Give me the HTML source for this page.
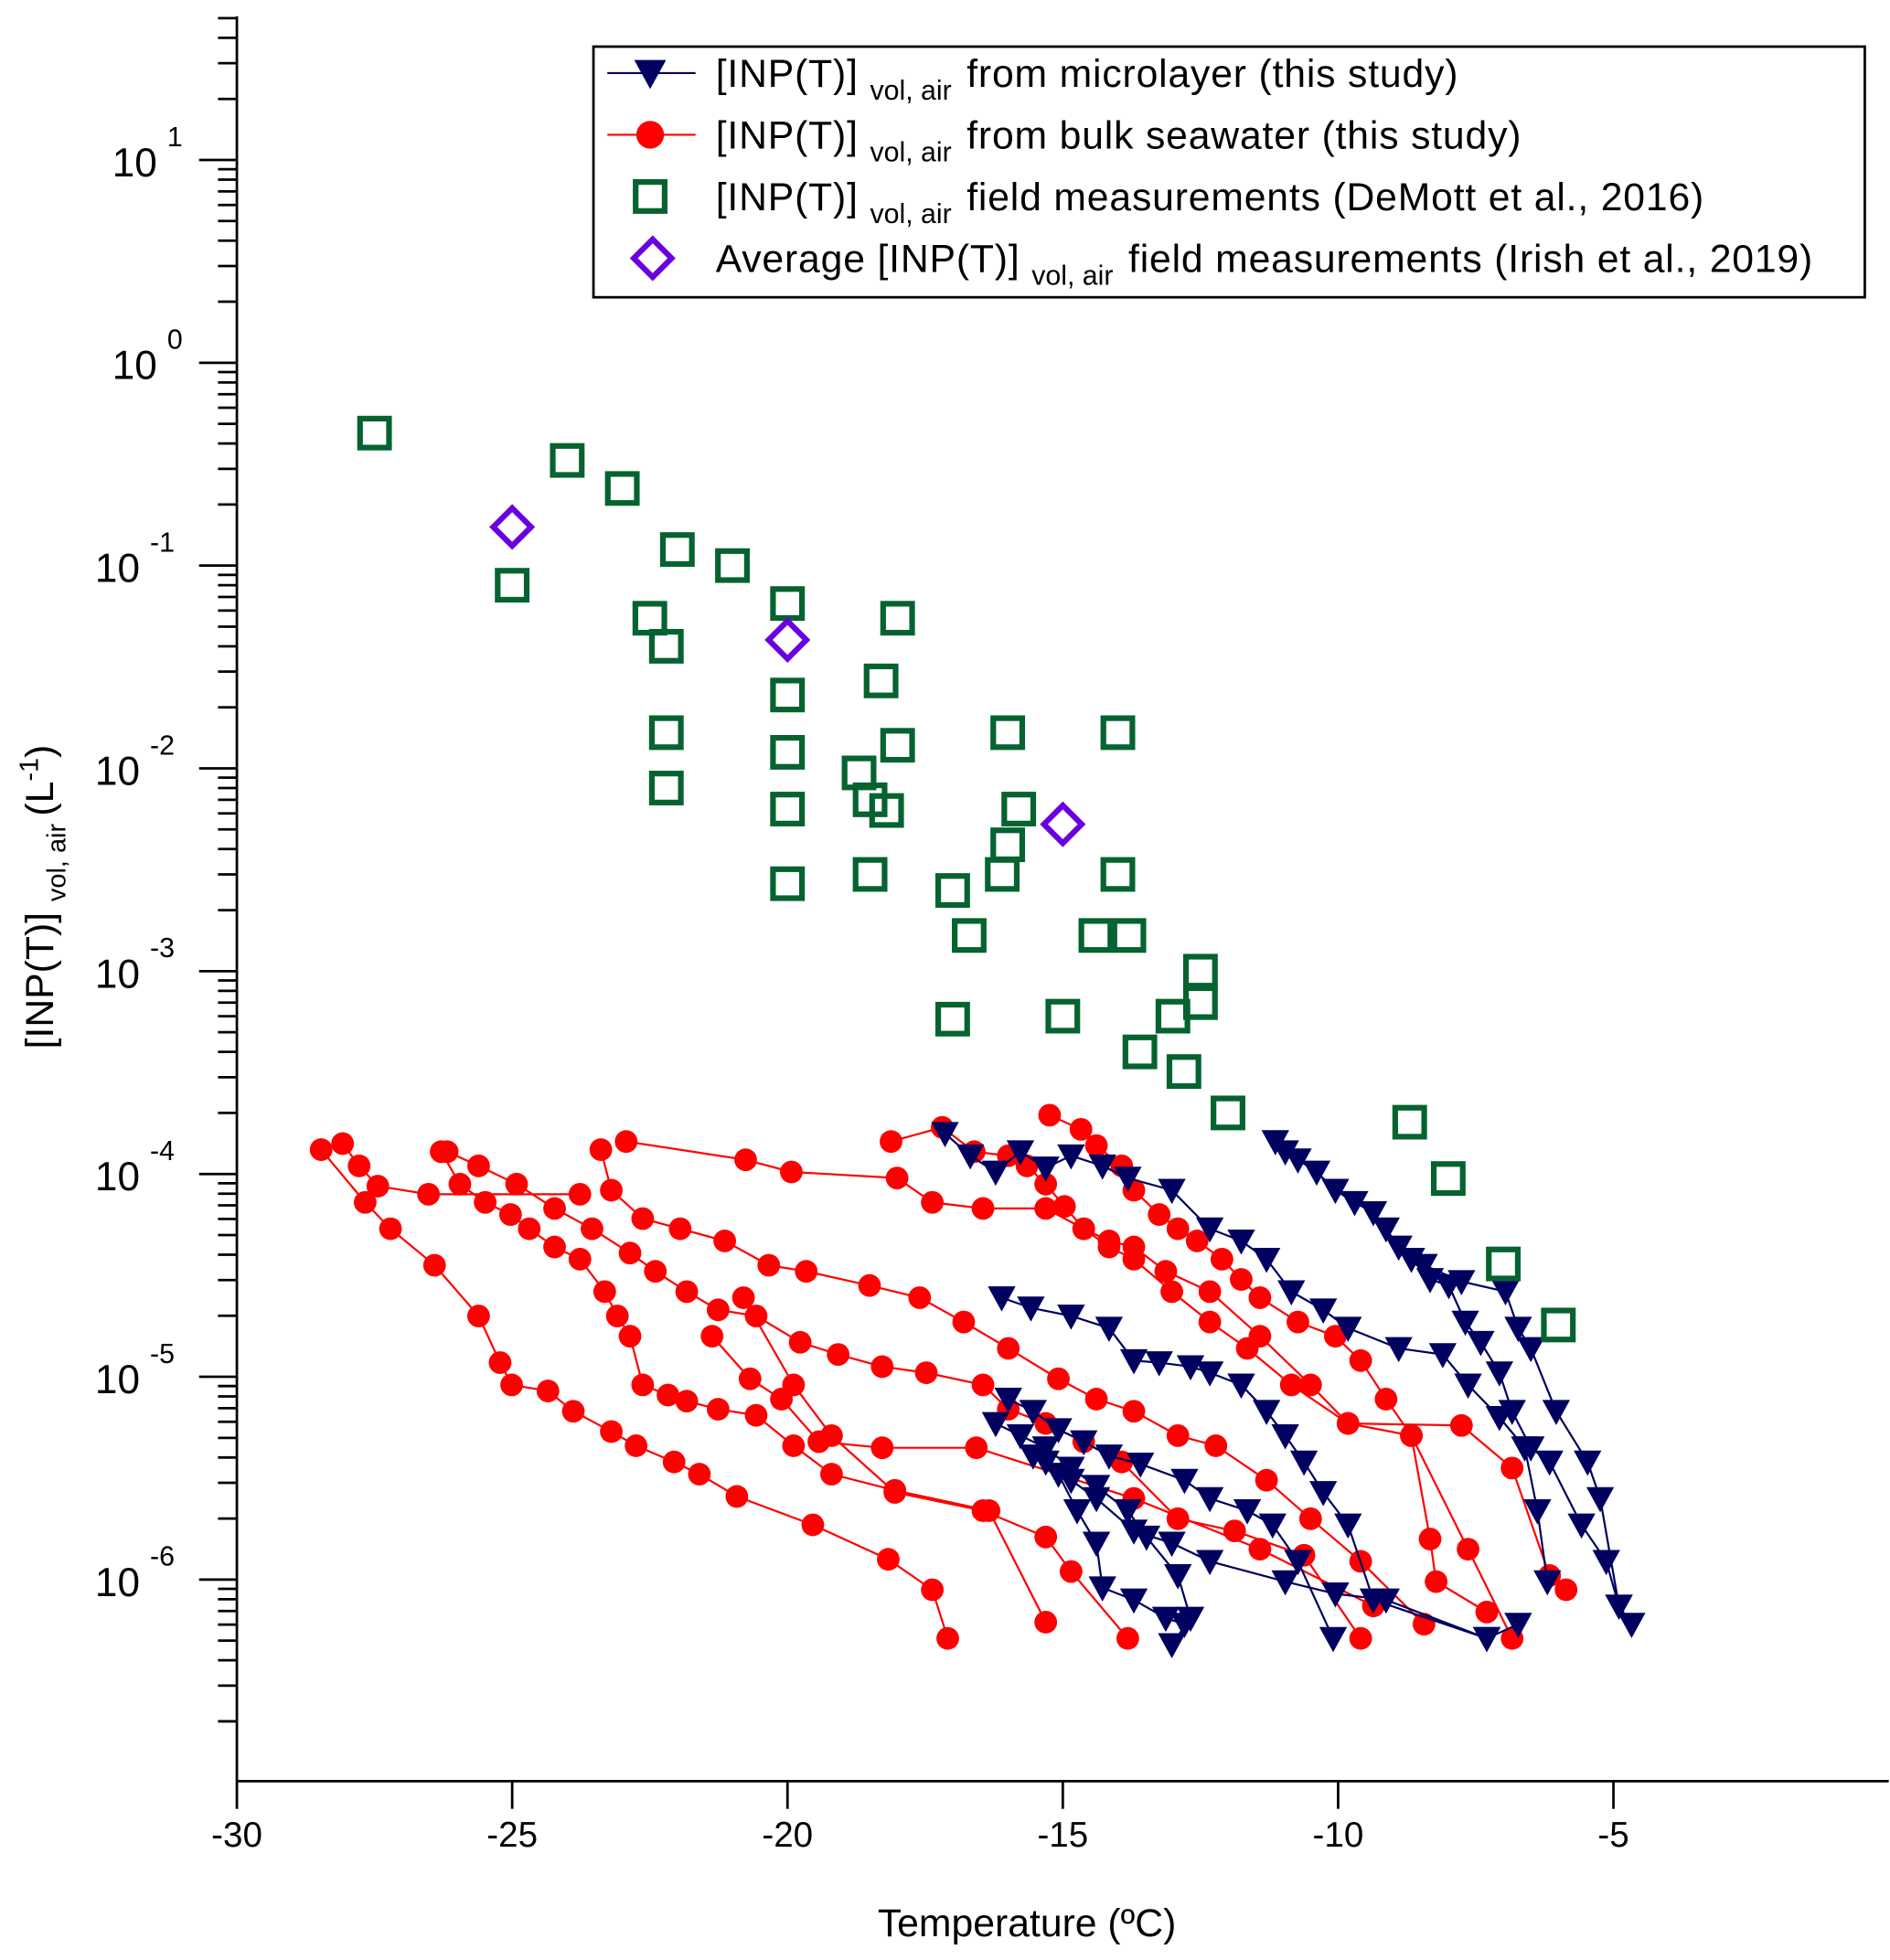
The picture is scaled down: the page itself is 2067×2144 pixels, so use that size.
<!DOCTYPE html>
<html><head><meta charset="utf-8"><style>
html,body{margin:0;padding:0;background:#fff}
svg{display:block}
text{font-family:"Liberation Sans",Arial,sans-serif;fill:#000}
</style></head><body>
<svg id="chart" xmlns="http://www.w3.org/2000/svg" width="2067" height="2144" viewBox="0 0 1500 1556" preserveAspectRatio="none">
<g id="grid"></g>
<g id="marks"></g>
<g id="legend"></g>
</svg>
<script>
const xTicks=[-30,-25,-20,-15,-10,-5];
const yDecades=[-6,-5,-4,-3,-2,-1,0,1];
// bulk seawater (red) series: temperatures and log10 concentrations
const redT=[
[-28.47,-27.67,-27.21,-26.41,-25.61,-25.22,-25.01,-24.35,-23.89,-23.2,-22.75,-22.06,-21.6,-20.92,-19.54,-18.17,-17.37,-17.09],
[-26.29,-25.95,-25.49,-25.03,-24.69,-24.23,-23.77,-23.32,-23.09,-22.86,-22.63,-22.17,-21.83,-21.26,-20.57,-19.89,-19.2,-18.05,-16.34,-15.31],
[-28.08,-27.78,-27.44,-26.52,-23.77],
[-26.18,-25.61,-24.92,-24.23,-23.55,-22.86,-22.4,-21.83,-21.26,-20.57,-19.77,-19.08,-18.28,-17.48,-16.45,-15.99,-15.31,-14.62,-13.93,-12.91,-11.88,-10.62,-9.59],
[-23.39,-23.2,-22.63,-21.95,-21.14,-20.34,-19.66,-18.51,-17.6,-16.8,-15.99,-15.08,-14.39,-13.71,-12.91,-12.22,-11.3,-10.5,-9.59,-8.44],
[-22.93,-20.76,-19.93,-18.01,-17.37,-16.45,-15.31,-14.62,-14.16,-13.71,-13.13,-12.33,-11.42,-10.5,-9.82,-8.67,-7.64,-6.84],
[-18.12,-17.19,-16.61,-15.99,-15.65,-15.31,-14.97,-14.62,-14.16,-13.71,-13.02,-12.33,-11.65,-10.85,-9.82,-7.76,-6.84,-6.16,-5.86],
[-15.24,-14.67,-14.39,-13.93,-13.71,-13.25,-12.91,-12.56,-12.11,-11.76,-11.42,-10.73,-10.05,-9.59,-9.13,-8.67,-8.33,-8.22,-7.3],
[-20.8,-19.89,-19.2,-18.05,-16.45,-15.31,-14.85,-13.82],
[-21.37,-20.68,-20.11,-19.43,-18.28,-16.57,-13.71,-11.42,-9.36]
];
const redLog=[
[-3.88,-4.14,-4.27,-4.45,-4.7,-4.93,-5.04,-5.07,-5.17,-5.27,-5.34,-5.42,-5.48,-5.59,-5.73,-5.9,-6.05,-6.29],
[-3.89,-4.05,-4.14,-4.2,-4.27,-4.36,-4.42,-4.58,-4.7,-4.8,-5.04,-5.09,-5.12,-5.16,-5.19,-5.34,-5.48,-5.56,-5.66,-6.21],
[-3.85,-3.96,-4.06,-4.1,-4.1],
[-3.89,-3.96,-4.05,-4.17,-4.27,-4.39,-4.48,-4.58,-4.67,-4.7,-4.83,-4.89,-4.95,-4.98,-5.04,-5.16,-5.23,-5.32,-5.42,-5.7,-5.76,-5.88,-6.29],
[-3.88,-4.08,-4.22,-4.27,-4.33,-4.45,-4.48,-4.55,-4.61,-4.73,-4.86,-5.01,-5.11,-5.17,-5.29,-5.34,-5.51,-5.7,-5.91,-6.22],
[-3.84,-3.93,-3.99,-4.02,-4.14,-4.17,-4.17,-4.27,-4.33,-4.36,-4.48,-4.58,-4.8,-5.04,-5.23,-5.29,-5.85,-6.29],
[-3.84,-3.77,-3.89,-3.91,-3.96,-4.05,-4.16,-4.27,-4.36,-4.42,-4.58,-4.73,-4.86,-5.04,-5.23,-5.24,-5.45,-5.98,-6.05],
[-3.71,-3.78,-3.86,-3.96,-4.08,-4.2,-4.27,-4.33,-4.42,-4.52,-4.61,-4.73,-4.8,-4.92,-5.11,-5.29,-5.8,-6.01,-6.16],
[-4.61,-5.04,-5.29,-5.57,-5.66,-5.79,-5.96,-6.29],
[-4.8,-5.01,-5.11,-5.32,-5.35,-5.35,-5.6,-5.85,-6.13]
];
// microlayer (navy) series
const blueT=[
[-11.14,-10.96,-10.73,-10.39,-10.05,-9.7,-9.36,-9.13,-8.9,-8.67,-8.33,-7.99,-7.69,-7.41,-7.07,-6.84,-6.5,-6.16,-5.58,-5.13,-4.9,-4.67],
[-8.44,-7.76,-6.96,-6.73,-6.5,-6.04,-5.47,-5.24,-4.9],
[-17.14,-16.68,-16.22,-15.77,-15.31,-14.85,-14.28,-13.82,-13.02,-12.33,-11.76,-11.3,-10.85,-10.27,-9.82,-8.9,-8.1,-7.64,-7.07,-6.61,-6.38,-6.2],
[-16.11,-15.58,-14.85,-14.16,-13.71,-13.25,-12.68,-12.33,-11.76,-11.3,-10.96,-10.62,-10.27,-9.82,-9.36,-7.3,-6.73],
[-15.99,-15.54,-15.08,-14.62,-14.16,-13.59,-12.79,-12.33,-11.65,-11.19,-10.73,-10.09],
[-16.22,-15.77,-15.31,-14.85,-14.39,-13.82,-13.48,-12.91,-12.68,-13.02],
[-15.54,-15.08,-14.74,-14.39,-14.28,-13.71,-13.13,-12.79],
[-15.31,-14.85,-14.39,-13.71,-13.02,-12.33,-10.96,-10.05,-9.13,-7.3]
];
const blueLog=[
[-3.84,-3.89,-3.93,-3.99,-4.08,-4.14,-4.19,-4.27,-4.36,-4.42,-4.52,-4.55,-4.73,-4.83,-4.98,-5.17,-5.35,-5.42,-5.73,-5.91,-6.13,-6.22],
[-4.45,-4.53,-4.58,-4.76,-4.86,-5.17,-5.42,-5.6,-6.13],
[-3.8,-3.91,-3.99,-3.89,-3.97,-3.91,-3.96,-4.02,-4.08,-4.27,-4.33,-4.42,-4.58,-4.67,-4.76,-4.86,-4.89,-5.04,-5.2,-5.35,-5.66,-6.01],
[-4.61,-4.66,-4.7,-4.76,-4.92,-4.93,-4.95,-4.98,-5.04,-5.17,-5.29,-5.42,-5.57,-5.73,-6.1,-6.29,-6.22],
[-5.11,-5.17,-5.26,-5.32,-5.39,-5.43,-5.51,-5.6,-5.66,-5.73,-5.91,-6.29],
[-5.23,-5.29,-5.35,-5.45,-5.54,-5.66,-5.79,-5.98,-6.19,-6.32],
[-5.39,-5.48,-5.66,-5.82,-6.04,-6.1,-6.19,-6.22],
[-5.42,-5.51,-5.6,-5.76,-5.82,-5.91,-6.01,-6.07,-6.1,-6.29]
];
// DeMott et al. 2016 field measurements
const demottT=[-27.5,-24,-23,-22,-21,-25,-20,-22.5,-22.2,-18,-20,-18.3,-22.2,-20,-18,-18.7,-18.5,-18.2,-22.2,-20,-16,-14,-15.8,-16,-16.1,-18.5,-20,-17,-14,-16.7,-14.4,-13.8,-12.5,-12.5,-13,-17,-15,-13.6,-12.8,-12,-8.7,-8,-7,-6];
const demottV=[0.45,0.33,0.24,0.12,0.1,0.08,0.065,0.055,0.04,0.055,0.023,0.027,0.015,0.012,0.013,0.0095,0.007,0.0062,0.008,0.0063,0.015,0.015,0.0063,0.0042,0.003,0.003,0.0027,0.0025,0.003,0.0015,0.0015,0.0015,0.001,0.0007,0.0006,0.00058,0.0006,0.0004,0.00032,0.0002,0.00018,0.000095,0.000036,0.000018];
// Irish et al. 2019 averages
const irishT=[-25,-20,-15];
const irishV=[0.155,0.043,0.0053];

const NS="http://www.w3.org/2000/svg";
const X0=188,X1=1499,T0=-30,T1=0;
const xs=t=>X0+(t-T0)*(X1-X0)/(T1-T0);
const ys=l=>288-l*161; // l = log10 value
function el(tag,attrs,parent){const e=document.createElementNS(NS,tag);for(const k in attrs)e.setAttribute(k,attrs[k]);parent.appendChild(e);return e;}
const G=document.getElementById('grid'),M=document.getElementById('marks'),L=document.getElementById('legend');

let a=el('line',{x1:188,y1:13,x2:188,y2:1414,stroke:'#000','stroke-width':2},G);

a=el('line',{x1:188,y1:1414,x2:1499,y2:1414,stroke:'#000','stroke-width':2},G);

xTicks.forEach(t=>{
  const tk=el('line',{x1:xs(t),y1:1414,x2:xs(t),y2:1436,stroke:'#000','stroke-width':2},G);
  
  const tx=el('text',{x:xs(t),y:1466,'text-anchor':'middle','font-size':28},G);tx.textContent=String(t);
  
});
for(let d=-7;d<=1;d++){
  for(let m=1;m<=9;m++){
    const l=d+Math.log10(m);const y=ys(l);
    if(y<13||y>1414)continue;
    const len=m===1?30:15;
    const tk=el('line',{x1:188-len,y1:y,x2:188,y2:y,stroke:'#000','stroke-width':2},G);
    
  }
}
yDecades.forEach(d=>{
  const y=ys(d);
  const tx=el('text',{x:d<0?107:117,y:y+13,'text-anchor':'middle','font-size':32},G);
  
  tx.appendChild(document.createTextNode('10'));
  const s=el('tspan',{dx:8,dy:-24,'font-size':22},tx);s.textContent=String(d);
});
let t=el('text',{x:815,y:1537,'text-anchor':'middle','font-size':31},G);t.textContent='Temperature (ºC)';

t=el('text',{transform:'translate(42,712) rotate(-90)','text-anchor':'middle','font-size':31},G);

t.appendChild(document.createTextNode('[INP(T)] '));
let sp=el('tspan',{dy:10,'font-size':21},t);sp.textContent='vol, air';
sp=el('tspan',{dy:-10,dx:6},t);sp.textContent='(L';
sp=el('tspan',{dy:-12,'font-size':21},t);sp.textContent='-1';
sp=el('tspan',{dy:12},t);sp.textContent=')';

const RED='#ff0000',BLUE='#000060',GREEN='#056330',PURP='#6a00e0';
function tri(cx,cy,g,c,s){s=s||1;return el('path',{d:`M${cx-11*s},${cy-9*s}L${cx+11*s},${cy-9*s}L${cx},${cy+11*s}Z`,fill:c},g);}
function sq(cx,cy,g){return el('rect',{x:cx-11.5,y:cy-11.5,width:23,height:23,fill:'none',stroke:GREEN,'stroke-width':4.5},g);}
function dia(cx,cy,g){return el('path',{d:`M${cx},${cy-15}L${cx+15},${cy}L${cx},${cy+15}L${cx-15},${cy}Z`,fill:'none',stroke:PURP,'stroke-width':4.5},g);}

redT.forEach((ts,i)=>{
  const g=el('g',{},M);
  const ln=el('polyline',{points:ts.map((v,j)=>xs(v)+','+ys(redLog[i][j])).join(' '),fill:'none',stroke:RED,'stroke-width':1.6},g);
  
  ts.forEach((v,j)=>{const c=el('circle',{cx:xs(v),cy:ys(redLog[i][j]),r:9,fill:RED},g);
    });
});
blueT.forEach((ts,i)=>{
  const g=el('g',{},M);
  const ln=el('polyline',{points:ts.map((v,j)=>xs(v)+','+ys(blueLog[i][j])).join(' '),fill:'none',stroke:BLUE,'stroke-width':1.6},g);
  
  ts.forEach((v,j)=>{const p=tri(xs(v),ys(blueLog[i][j]),g,BLUE);
    });
});
demottT.forEach((v,i)=>{const r=sq(xs(v),ys(Math.log10(demottV[i])),M);
  });
irishT.forEach((v,i)=>{const r=dia(xs(v),ys(Math.log10(irishV[i])),M);
  });

const box=el('rect',{x:471,y:37,width:1009,height:199,fill:'#fff',stroke:'#000','stroke-width':2},L);

const entries=[
 ['[INP(T)]','from microlayer（this study)','line-tri'],
 ['[INP(T)]','from bulk seawater (this study)','line-circ'],
 ['[INP(T)]','field measurements (DeMott et al., 2016)','sq'],
 ['Average [INP(T)]','field measurements (Irish et al., 2019)','dia']];
entries.forEach((e,i)=>{
  const y=58+i*49;
  const g=el('g',{},L);
  if(e[2]==='line-tri'){el('line',{x1:482,y1:y,x2:552,y2:y,stroke:BLUE,'stroke-width':1.6},g);tri(516,y,g,BLUE,1.15);}
  if(e[2]==='line-circ'){el('line',{x1:482,y1:y,x2:552,y2:y,stroke:RED,'stroke-width':1.6},g);el('circle',{cx:516,cy:y,r:11,fill:RED},g);}
  if(e[2]==='sq')sq(516,y,g);
  if(e[2]==='dia')dia(518,y,g);
  const tx=el('text',{x:568,y:y+11,'font-size':31,'letter-spacing':0.6},g);
  tx.appendChild(document.createTextNode(e[0]+' '));
  const s1=el('tspan',{dy:10,'font-size':22,'letter-spacing':0},tx);s1.textContent='vol, air';
  const s2=el('tspan',{dy:-10,dx:12},tx);s2.textContent=e[1].replace('（',' (');
});
</script>
</body></html>
